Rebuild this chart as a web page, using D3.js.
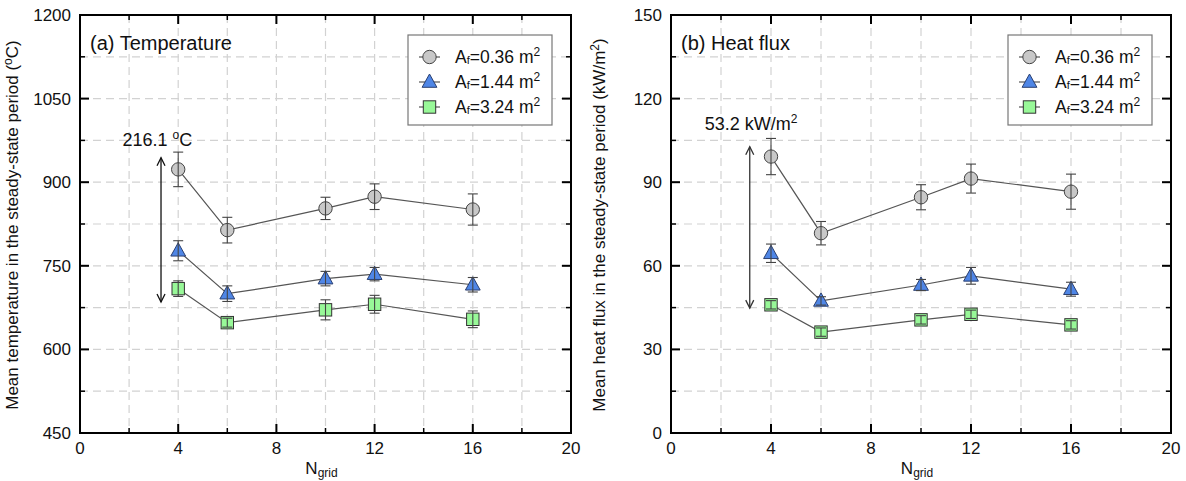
<!DOCTYPE html>
<html>
  <head>
    <meta charset="utf-8" />
    <title>steady-state means vs Ngrid</title>
    <script src="https://cdn.jsdelivr.net/npm/d3@7"></script>
  </head>

  <style>
    body {
      background: #fff;
      margin: 0px;
      padding: 0px;
    }
    text {
      font-family: "Liberation Sans", Arial, sans-serif;
      fill: #111;
    }
    .grid line {
      stroke: #d2d2d2;
      stroke-width: 1.2;
      stroke-dasharray: 8,5;
    }
    .frame {
      fill: none;
      stroke: #000;
      stroke-width: 2;
    }
    .link {
      fill: none;
      stroke: #555;
      stroke-width: 1.2;
    }
    .err {
      stroke: #444;
      stroke-width: 1.1;
    }
  </style>

  <body>
    <script>

      // x values (grid number)
      var nGrid = [4, 6, 10, 12, 16];
      var xTicks = [0, 4, 8, 12, 16, 20];

      // (a) temperature, degC
      var temp036 = [923, 814, 853, 874, 851],
          temp036Err = [31, 23, 20, 23, 28];
      var temp144 = [777, 700, 727, 735, 716],
          temp144Err = [18, 14, 13, 12, 13];
      var temp324 = [709, 648, 671, 681, 654],
          temp324Err = [14, 8, 18, 16, 15];
      var tempTicks = [450, 600, 750, 900, 1050, 1200];

      // (b) heat flux, kW/m2
      var flux036 = [99.2, 71.7, 84.6, 91.3, 86.6],
          flux036Err = [6.5, 4.2, 4.5, 5.2, 6.3];
      var flux144 = [64.5, 47.4, 53.1, 56.4, 51.6],
          flux144Err = [3.3, 1.5, 2.0, 3.0, 2.5];
      var flux324 = [46.0, 36.2, 40.6, 42.6, 38.8],
          flux324Err = [1.5, 1.5, 1.5, 1.5, 1.5];
      var fluxTicks = [0, 30, 60, 90, 120, 150];

      var seriesNames = ["0.36", "1.44", "3.24"];

      // spread arrows: [x, top, bottom], label [x, y, text]
      var tempArrow = [3.3, 944, 685],
          tempLabel = [3.15, 965, "216.1 "];
      var fluxArrow = [3.15, 102.7, 44.8],
          fluxLabel = [3.2, 108.7, "53.2 kW/m"];

      var styles = [
        { shape: "circle", fill: "#c8c8c8" },
        { shape: "triangle", fill: "#4f86e6" },
        { shape: "square", fill: "#98f898" }
      ];

      var svg = d3.select("body").append("svg")
        .attr("width", 1186)
        .attr("height", 481);

      function marker(g, shape, fill, cx, cy) {
        if (shape == "circle") {
          g.append("circle").attr("cx", cx).attr("cy", cy).attr("r", 6.7)
            .style("fill", fill).style("stroke", "#444").style("stroke-width", 1);
        } else if (shape == "triangle") {
          g.append("path")
            .attr("d", "M" + cx + "," + (cy - 8) + "L" + (cx + 7.4) + "," + (cy + 5.3) + "L" + (cx - 7.4) + "," + (cy + 5.3) + "Z")
            .style("fill", fill).style("stroke", "#2a3f70").style("stroke-width", 1);
        } else {
          g.append("rect").attr("x", cx - 6.2).attr("y", cy - 6.2).attr("width", 12.4).attr("height", 12.4)
            .style("fill", fill).style("stroke", "#333").style("stroke-width", 1);
        }
      }

      function panel(opt) {
        var g = svg.append("g");

        var x = d3.scaleLinear().domain([0, 20]).range([opt.left, opt.right]);
        var y = d3.scaleLinear().domain(opt.yDomain).range([433, 15]);

        // dashed grid
        var grid = g.append("g").attr("class", "grid");
        grid.selectAll(".vx").data(d3.range(2, 20, 2))
          .enter().append("line")
            .attr("x1", function(d) { return x(d) }).attr("x2", function(d) { return x(d) })
            .attr("y1", y.range()[1]).attr("y2", y.range()[0]);
        var yStep = (opt.yDomain[1] - opt.yDomain[0]) / 10;
        grid.selectAll(".hy").data(d3.range(1, 10).map(function(i) { return opt.yDomain[0] + i * yStep }))
          .enter().append("line")
            .attr("x1", opt.left).attr("x2", opt.right)
            .attr("y1", function(d) { return y(d) }).attr("y2", function(d) { return y(d) });

        // inward ticks on all four sides
        var ticks = g.append("g").style("stroke", "#000");
        d3.range(2, 20, 2).forEach(function(v) {
          var len = v % 4 == 0 ? 9 : 5;
          var w = v % 4 == 0 ? 2 : 1.5;
          ticks.append("line").attr("x1", x(v)).attr("x2", x(v)).attr("y1", y.range()[0]).attr("y2", y.range()[0] - len).style("stroke-width", w);
          ticks.append("line").attr("x1", x(v)).attr("x2", x(v)).attr("y1", y.range()[1]).attr("y2", y.range()[1] + len).style("stroke-width", w);
        });
        d3.range(1, 10).forEach(function(i) {
          var v = opt.yDomain[0] + i * yStep;
          var len = i % 2 == 0 ? 9 : 5;
          var w = i % 2 == 0 ? 2 : 1.5;
          ticks.append("line").attr("x1", opt.left).attr("x2", opt.left + len).attr("y1", y(v)).attr("y2", y(v)).style("stroke-width", w);
          ticks.append("line").attr("x1", opt.right).attr("x2", opt.right - len).attr("y1", y(v)).attr("y2", y(v)).style("stroke-width", w);
        });

        g.append("rect").attr("class", "frame")
          .attr("x", opt.left).attr("y", 15)
          .attr("width", opt.right - opt.left).attr("height", 418);

        // tick labels
        g.selectAll(".xl").data(xTicks)
          .enter().append("text")
            .attr("x", function(d) { return x(d) })
            .attr("y", 454)
            .attr("text-anchor", "middle")
            .style("font-size", "17px")
            .text(function(d) { return d });
        g.selectAll(".yl").data(opt.yTicks)
          .enter().append("text")
            .attr("x", opt.left - 9)
            .attr("y", function(d) { return y(d) + 6 })
            .attr("text-anchor", "end")
            .style("font-size", "17px")
            .text(function(d) { return d });

        // axis titles
        var xt = g.append("text")
          .attr("x", (opt.left + opt.right) / 2 - 4)
          .attr("y", 474)
          .attr("text-anchor", "middle")
          .style("font-size", "17px");
        xt.append("tspan").text("N");
        xt.append("tspan").attr("dy", 3).style("font-size", "12px").text("grid");

        var yt = g.append("text")
          .attr("transform", "translate(" + (opt.left - opt.yTitleOff) + ",225) rotate(-90)")
          .attr("text-anchor", "middle")
          .style("font-size", "17px");
        opt.yTitle(yt);

        g.append("text")
          .attr("x", opt.left + 10)
          .attr("y", 50)
          .style("font-size", "20px")
          .text(opt.title);

        // series
        opt.series.forEach(function(s, k) {
          var sg = g.append("g");
          sg.append("path")
            .datum(nGrid)
            .attr("class", "link")
            .attr("d", d3.line()
              .x(function(d) { return x(d) })
              .y(function(d, i) { return y(s.mean[i]) }));
          nGrid.forEach(function(n, i) {
            marker(sg, styles[k].shape, styles[k].fill, x(n), y(s.mean[i]));
          });
          // error bars drawn over the markers
          nGrid.forEach(function(n, i) {
            var top = y(s.mean[i] + s.err[i]), bot = y(s.mean[i] - s.err[i]);
            sg.append("line").attr("class", "err").attr("x1", x(n)).attr("x2", x(n)).attr("y1", top).attr("y2", bot);
            sg.append("line").attr("class", "err").attr("x1", x(n) - 5).attr("x2", x(n) + 5).attr("y1", top).attr("y2", top);
            sg.append("line").attr("class", "err").attr("x1", x(n) - 5).attr("x2", x(n) + 5).attr("y1", bot).attr("y2", bot);
          });
        });

        // spread arrow
        var ax = x(opt.arrow[0]), at = y(opt.arrow[1]), ab = y(opt.arrow[2]);
        var ag = g.append("g").style("stroke", opt.arrowColor).style("stroke-width", 1.3).style("fill", "none");
        ag.append("line").attr("x1", ax).attr("x2", ax).attr("y1", at).attr("y2", ab);
        ag.append("path").attr("d", "M" + (ax - 4) + "," + (at + 8) + "L" + ax + "," + at + "L" + (ax + 4) + "," + (at + 8));
        ag.append("path").attr("d", "M" + (ax - 4) + "," + (ab - 8) + "L" + ax + "," + ab + "L" + (ax + 4) + "," + (ab - 8));

        var lt = g.append("text")
          .attr("x", x(opt.label[0]))
          .attr("y", y(opt.label[1]))
          .attr("text-anchor", "middle")
          .style("font-size", "18px");
        lt.append("tspan").text(opt.label[2]);
        lt.append("tspan").attr("dy", -7).style("font-size", "12px").text(opt.labelSup);
        if (opt.labelTail) lt.append("tspan").attr("dy", 7).text(opt.labelTail);

        // legend
        var bx = opt.right - 19 - 144, by = 35;
        var lg = g.append("g");
        lg.append("rect").attr("x", bx).attr("y", by).attr("width", 144).attr("height", 90)
          .style("fill", "#fff").style("stroke", "#777").style("stroke-width", 1.2);
        seriesNames.forEach(function(name, k) {
          var ry = by + 22 + k * 25;
          lg.append("line").attr("x1", bx + 11).attr("x2", bx + 32).attr("y1", ry).attr("y2", ry)
            .style("stroke", "#555").style("stroke-width", 1.2);
          marker(lg, styles[k].shape, styles[k].fill, bx + 21.5, ry);
          var t = lg.append("text").attr("x", bx + 47).attr("y", ry + 6).style("font-size", "17.5px");
          t.append("tspan").text("A");
          t.append("tspan").attr("dy", 1).style("font-size", "11px").text("f");
          t.append("tspan").attr("dy", -1).text("=" + name + " m");
          t.append("tspan").attr("dy", -7).style("font-size", "12px").text("2");
        });
      }

      panel({
        left: 80, right: 571,
        yDomain: [450, 1200], yTicks: tempTicks,
        title: "(a) Temperature",
        yTitleOff: 62,
        yTitle: function(t) {
          t.append("tspan").text("Mean temperature in the steady-state period (");
          t.append("tspan").attr("dy", -6).style("font-size", "12px").text("o");
          t.append("tspan").attr("dy", 6).text("C)");
        },
        series: [
          { mean: temp036, err: temp036Err },
          { mean: temp144, err: temp144Err },
          { mean: temp324, err: temp324Err }
        ],
        arrow: tempArrow, arrowColor: "#111",
        label: tempLabel, labelSup: "o", labelTail: "C"
      });

      panel({
        left: 671, right: 1171,
        yDomain: [0, 150], yTicks: fluxTicks,
        title: "(b) Heat flux",
        yTitleOff: 66,
        yTitle: function(t) {
          t.append("tspan").text("Mean heat flux in the steady-state period (kW/m");
          t.append("tspan").attr("dy", -6).style("font-size", "12px").text("2");
          t.append("tspan").attr("dy", 6).text(")");
        },
        series: [
          { mean: flux036, err: flux036Err },
          { mean: flux144, err: flux144Err },
          { mean: flux324, err: flux324Err }
        ],
        arrow: fluxArrow, arrowColor: "#333",
        label: fluxLabel, labelSup: "2", labelTail: null
      });

    </script>
  </body>
</html>
